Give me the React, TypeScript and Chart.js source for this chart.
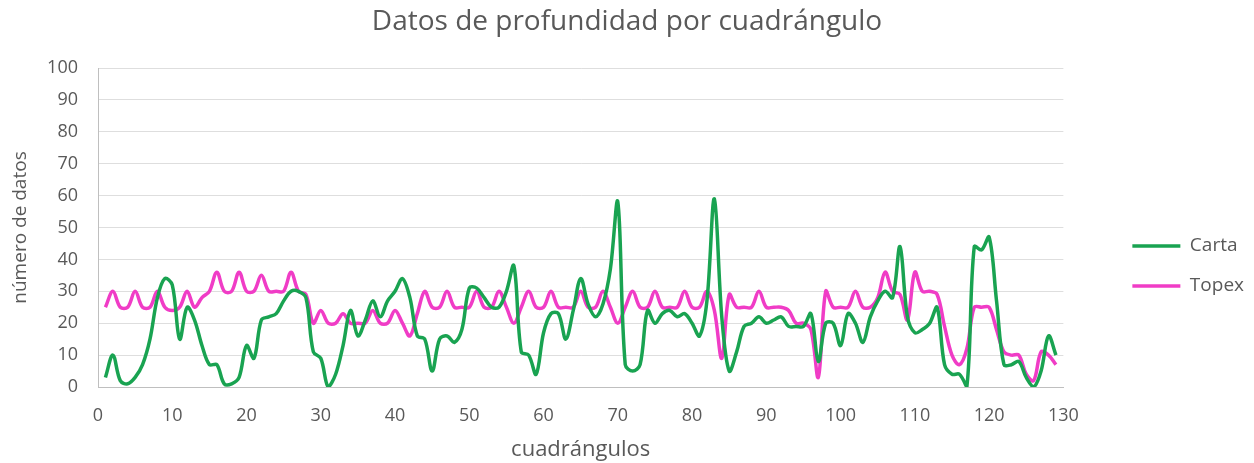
import React, { useEffect, useRef } from "react";
import { Chart, registerables } from "chart.js";

Chart.register(...registerables);

const cuadrangulos: number[] = Array.from({ length: 129 }, (_, i) => i + 1);

const carta: number[] = [
  3, 10, 2, 1, 3, 7, 15, 28, 34, 32,
  15, 25, 21, 13, 7, 7, 1, 1, 3, 13,
  9, 21, 22, 23, 27, 30, 30, 28, 11, 9,
  0, 4, 13, 24, 16, 21, 27, 22, 27, 30,
  34, 28, 16, 15, 5, 15, 16, 14, 18, 31,
  31, 28, 25, 25, 30, 38, 11, 10, 4, 17,
  23, 23, 15, 24, 34, 26, 22, 26, 37, 58,
  7, 5, 7, 24, 20, 23, 24, 22, 23, 20,
  16, 27, 59, 22, 5, 11, 19, 20, 22, 20,
  21, 22, 19, 19, 19, 23, 8, 20, 20, 13,
  23, 20, 14, 22, 27, 30, 28, 44, 22, 17,
  18, 20, 25, 7, 4, 4, 0, 44, 43, 47,
  27, 7, 7, 8, 3, 0, 5, 16, 10,
];

const topex: number[] = [
  25, 30, 25, 25, 30, 25, 25, 30, 25, 24,
  25, 30, 25, 28, 30, 36, 30, 30, 36, 30,
  30, 35, 30, 30, 30, 36, 30, 29, 20, 24,
  20, 20, 23, 20, 20, 20, 24, 20, 20, 24,
  20, 16, 23, 30, 25, 25, 30, 25, 25, 25,
  30, 25, 25, 30, 25, 20, 25, 30, 25, 25,
  30, 25, 25, 25, 30, 25, 25, 30, 25, 20,
  25, 30, 25, 25, 30, 25, 25, 25, 30, 25,
  25, 30, 24, 9, 29, 25, 25, 25, 30, 25,
  25, 25, 24, 20, 20, 18, 3, 30, 25, 25,
  25, 30, 25, 25, 28, 36, 30, 29, 21, 36,
  30, 30, 29, 19, 10, 7, 12, 25, 25, 25,
  18, 11, 10, 10, 4, 2, 11, 10, 7,
];

const seriesNames = ["Carta", "Topex"];
const chartTitle = "Datos de profundidad por cuadrángulo";
const yTitle = "número de datos";
const xTitle = "cuadrángulos";

const GREEN = "#19a351";
const PINK = "#f03cc6";
const TEXT = "#595959";
const FONT = '"Open Sans", sans-serif';

export default function App() {
  const ref = useRef<HTMLCanvasElement | null>(null);

  useEffect(() => {
    if (!ref.current) return;
    Chart.defaults.font.family = FONT;
    const chart = new Chart(ref.current, {
      type: "line",
      data: {
        datasets: [
          {
            label: seriesNames[0],
            data: cuadrangulos.map((x, i) => ({ x, y: carta[i] })),
            borderColor: GREEN,
            backgroundColor: GREEN,
            borderWidth: 3.5,
            pointRadius: 0,
            tension: 0.35,
            fill: false,
          },
          {
            label: seriesNames[1],
            data: cuadrangulos.map((x, i) => ({ x, y: topex[i] })),
            borderColor: PINK,
            backgroundColor: PINK,
            borderWidth: 3.5,
            pointRadius: 0,
            tension: 0.35,
            fill: false,
          },
        ],
      },
      options: {
        animation: false,
        responsive: true,
        maintainAspectRatio: false,
        layout: { padding: 0 },
        plugins: {
          title: {
            display: true,
            text: chartTitle,
            color: TEXT,
            font: { size: 28, weight: "normal", family: FONT },
            padding: { top: 5, bottom: 29.4 },
          },
          legend: {
            position: "right",
            title: { display: true, text: "", font: { size: 10 }, padding: { top: 57, bottom: 0 } },
            labels: {
              usePointStyle: true,
              pointStyle: "line",
              pointStyleWidth: 48,
              padding: 21,
              color: TEXT,
              font: { size: 19, family: FONT },
            },
          },
          tooltip: { enabled: false },
        },
        scales: {
          x: {
            type: "linear",
            min: 0,
            max: 130,
            ticks: { stepSize: 10, color: TEXT, font: { size: 18 }, padding: 18 },
            grid: { display: false, drawTicks: false },
            border: { display: true, color: "#bfbfbf", width: 1 },
            title: {
              display: true,
              text: xTitle,
              color: TEXT,
              font: { size: 22 },
              padding: { top: 0, bottom: 0 },
            },
            afterFit: (s: any) => {
              s.height = 76;
            },
          },
          y: {
            min: 0,
            max: 100,
            ticks: { stepSize: 10, color: TEXT, font: { size: 18 }, padding: 20 },
            grid: { color: "#dedede", drawTicks: false },
            border: { display: true, color: "#bfbfbf", width: 1 },
            title: {
              display: true,
              text: yTitle,
              color: TEXT,
              font: { size: 19 },
              padding: { top: 9, bottom: 0 },
            },
            afterFit: (s: any) => {
              s.width = 98;
            },
          },
          spacer: {
            type: "linear",
            position: "right",
            display: true,
            ticks: { display: false },
            grid: { display: false, drawTicks: false },
            border: { display: false },
            title: { display: false },
            afterFit: (s: any) => {
              s.width = 48;
            },
          },
        },
      },
    });
    return () => chart.destroy();
  }, []);

  return (
    <div style={{ position: "fixed", left: 0, top: 0, width: 1254, height: 463, background: "#fff" }}>
      <canvas ref={ref} />
    </div>
  );
}
